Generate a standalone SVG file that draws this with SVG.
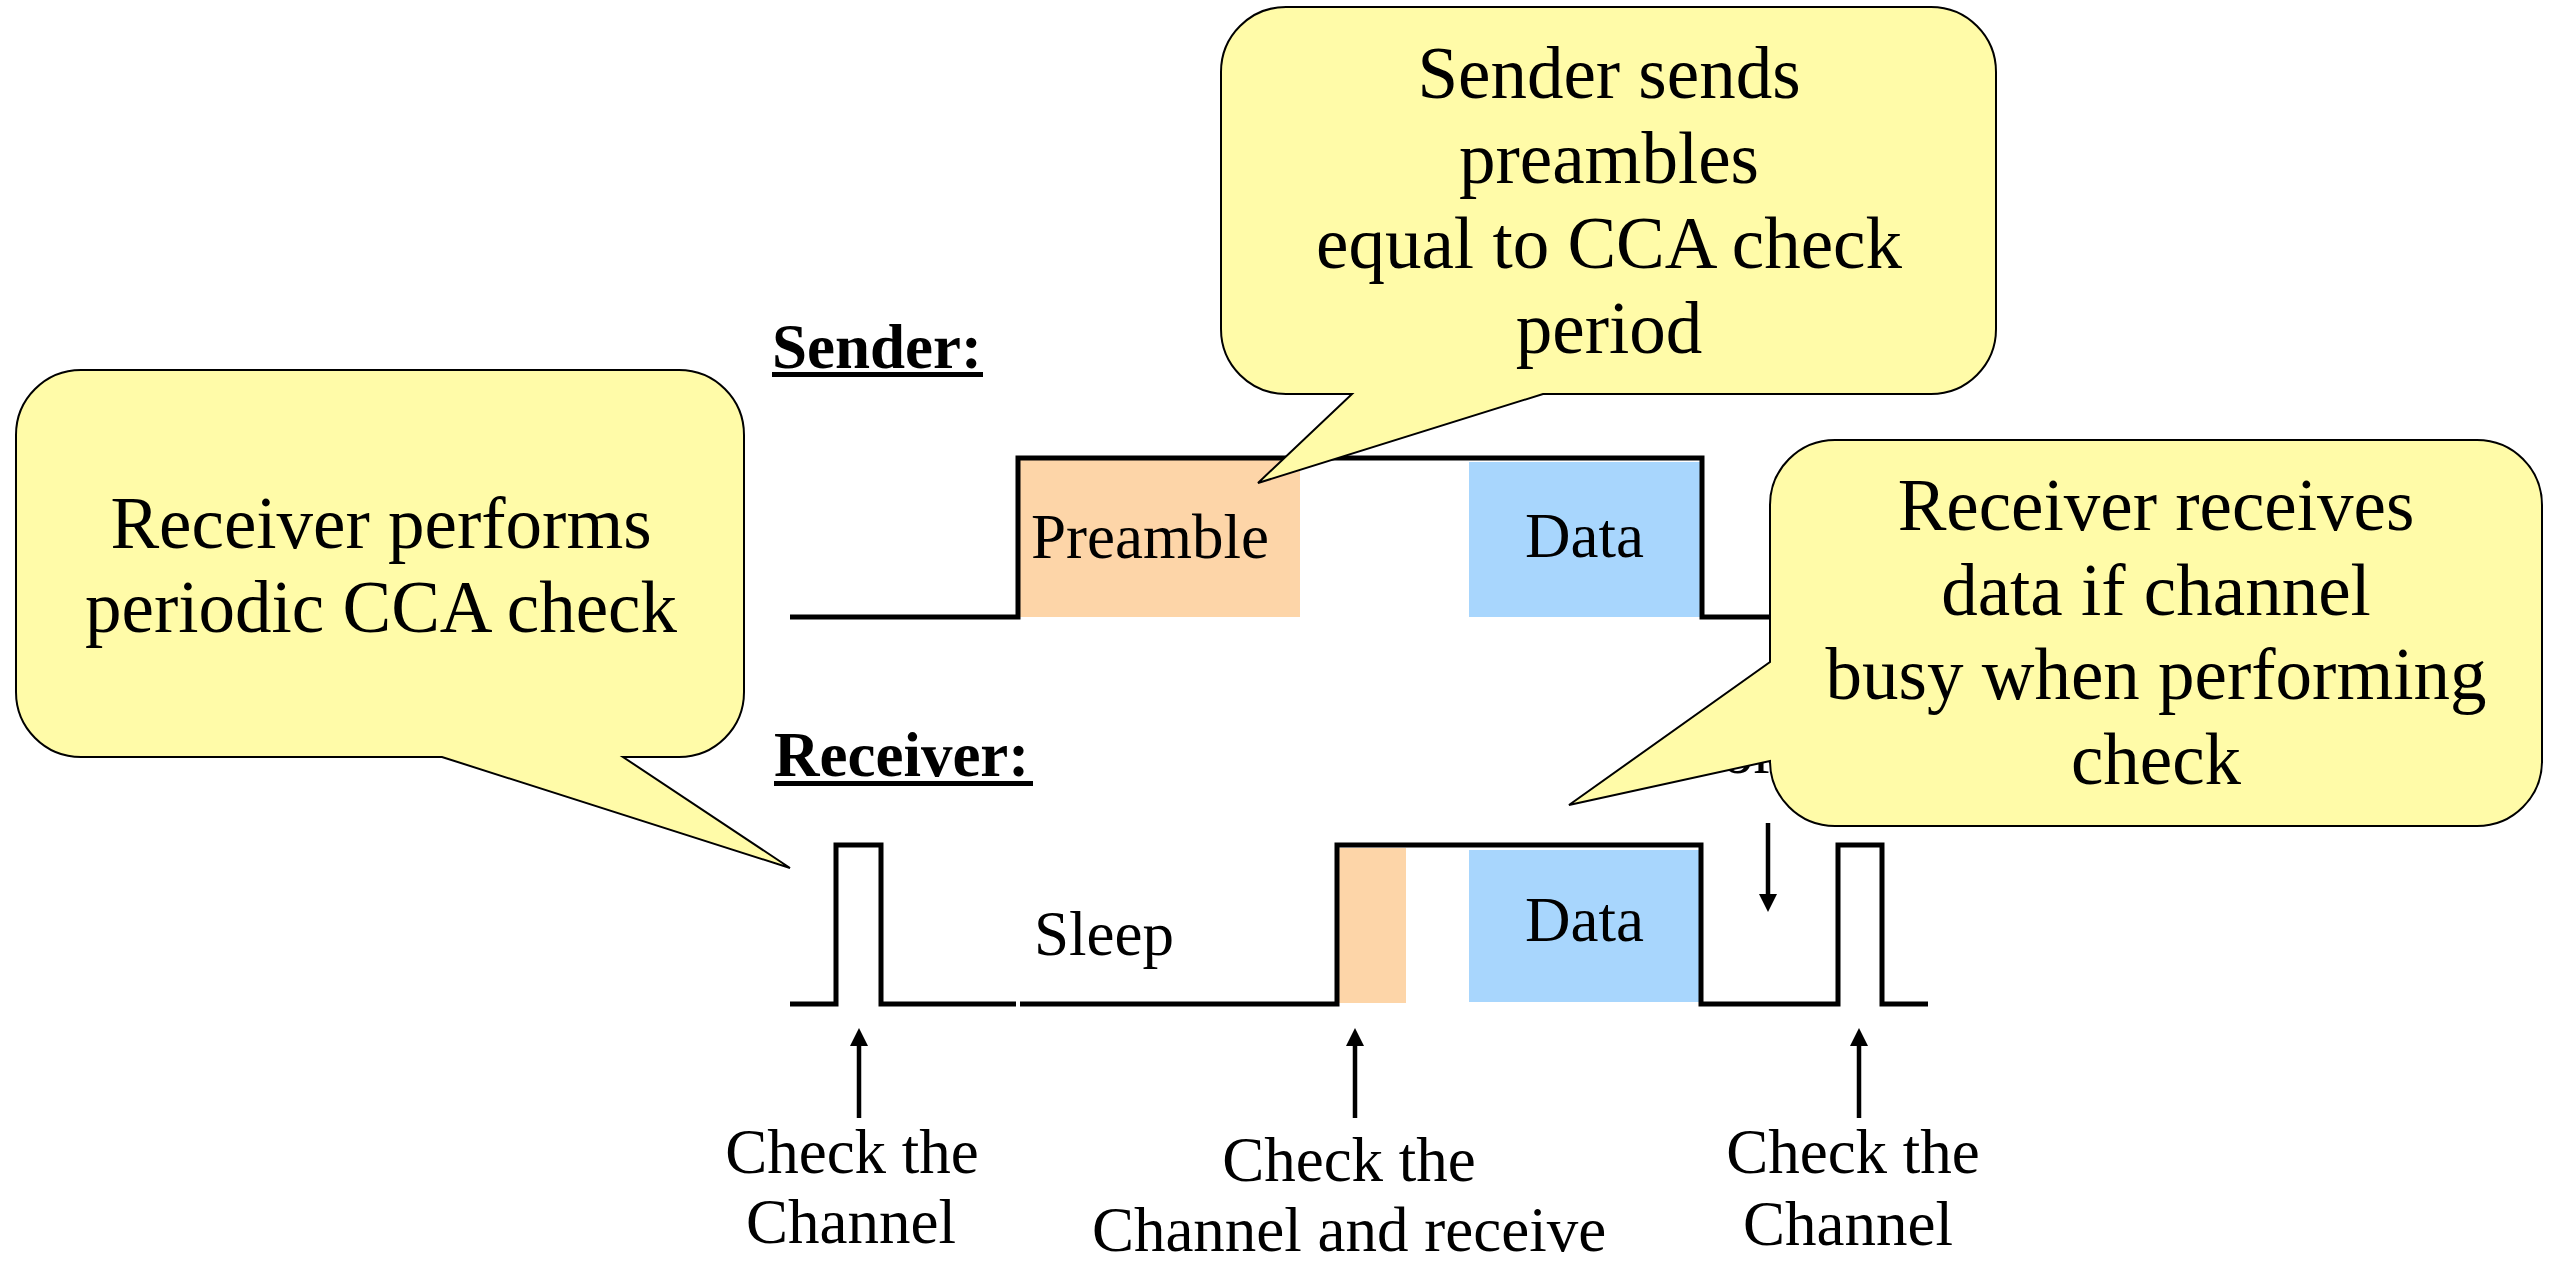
<svg xmlns="http://www.w3.org/2000/svg" width="2554" height="1261" viewBox="0 0 2554 1261">
  <style>
    .txt { font-family: "Liberation Serif", "Times New Roman", serif; fill: #000; }
    .lbl { font-size: 63px; }
    .head { font-size: 63px; font-weight: bold; }
    .call { font-size: 73px; text-anchor: middle; }
    .mid { text-anchor: middle; }
    .sig { fill: none; stroke: #000; stroke-width: 5; stroke-linejoin: miter; stroke-linecap: butt; }
    .bubble { fill: #FFFBA8; stroke: #000; stroke-width: 2; stroke-linejoin: miter; }
    .pre { fill: #FDD5A8; }
    .dat { fill: #A8D6FD; }
    .arrow { stroke: #000; stroke-width: 4.5; fill: none; marker-end: url(#tip); }
  </style>
  <defs>
    <marker id="tip" markerUnits="userSpaceOnUse" markerWidth="18" markerHeight="18" viewBox="0 0 18 18" refX="0" refY="9" orient="auto">
      <path d="M0,0 L18,9 L0,18 Z" fill="#000"/>
    </marker>
  </defs>
  <rect width="2554" height="1261" fill="#fff"/>

  <!-- Sender timeline -->
  <g id="sender">
    <text class="txt head" x="772" y="368">Sender:</text>
    <rect x="772" y="372" width="211" height="5" fill="#000"/>
    <rect class="pre" x="1018" y="460" width="282" height="157"/>
    <rect class="dat" x="1469" y="462" width="234" height="155"/>
    <text class="txt lbl" x="1031" y="558">Preamble</text>
    <text class="txt lbl" x="1525" y="557">Data</text>
    <polyline class="sig" points="790,617 1018,617 1018,458 1702,458 1702,617 1772,617"/>
  </g>

  <!-- Receiver timeline -->
  <g id="receiver">
    <text class="txt head" x="774" y="776">Receiver:</text>
    <rect x="774" y="781" width="259" height="5" fill="#000"/>
    <rect class="pre" x="1339" y="848" width="67" height="155"/>
    <rect class="dat" x="1469" y="850" width="234" height="152"/>
    <text class="txt lbl" x="1034" y="955">Sleep</text>
    <text class="txt lbl" x="1525" y="941">Data</text>
    <polyline class="sig" points="790,1004 836,1004 836,845 881,845 881,1004 1016,1004"/>
    <polyline class="sig" points="1020,1004 1337,1004 1337,845 1701,845 1701,1004 1838,1004 1838,845 1882,845 1882,1004 1928,1004"/>
    <text class="txt lbl" x="1722" y="773">or</text>
  </g>

  <!-- Channel check labels -->
  <g id="check1">
    <text class="txt lbl mid" x="852" y="1173">Check the</text>
    <text class="txt lbl mid" x="851" y="1243">Channel</text>
  </g>
  <g id="check2">
    <text class="txt lbl mid" x="1349" y="1181">Check the</text>
    <text class="txt lbl mid" x="1349" y="1251">Channel and receive</text>
  </g>
  <g id="check3">
    <text class="txt lbl mid" x="1853" y="1173">Check the</text>
    <text class="txt lbl mid" x="1848" y="1245">Channel</text>
  </g>

  <!-- Arrows -->
  <g id="connectors">
    <line class="arrow" x1="859" y1="1118" x2="859" y2="1046"/>
    <line class="arrow" x1="1355" y1="1118" x2="1355" y2="1046"/>
    <line class="arrow" x1="1859" y1="1118" x2="1859" y2="1046"/>
    <line class="arrow" x1="1768" y1="823" x2="1768" y2="894"/>
  </g>

  <!-- Callouts -->
  <g id="callout-sender">
    <path class="bubble" d="M1286,7 H1931 A65,65 0 0 1 1996,72 V329 A65,65 0 0 1 1931,394 H1543 L1258,483 L1352,394 H1286 A65,65 0 0 1 1221,329 V72 A65,65 0 0 1 1286,7 Z"/>
    <text class="txt call" x="1609" y="98">Sender sends</text>
    <text class="txt call" x="1609" y="183">preambles</text>
    <text class="txt call" x="1609" y="268">equal to CCA check</text>
    <text class="txt call" x="1609" y="353">period</text>
  </g>
  <g id="callout-cca">
    <path class="bubble" d="M81,370 H679 A65,65 0 0 1 744,435 V692 A65,65 0 0 1 679,757 H623 L790,868 L442,757 H81 A65,65 0 0 1 16,692 V435 A65,65 0 0 1 81,370 Z"/>
    <text class="txt call" x="381" y="548">Receiver performs</text>
    <text class="txt call" x="381" y="632">periodic CCA check</text>
  </g>
  <g id="callout-receive">
    <path class="bubble" d="M1835,440 H2477 A65,65 0 0 1 2542,505 V761 A65,65 0 0 1 2477,826 H1835 A65,65 0 0 1 1770,761 L1569,805 L1770,662 V505 A65,65 0 0 1 1835,440 Z"/>
    <text class="txt call" x="2156" y="530">Receiver receives</text>
    <text class="txt call" x="2156" y="615">data if channel</text>
    <text class="txt call" x="2156" y="699">busy when performing</text>
    <text class="txt call" x="2156" y="784">check</text>
  </g>
</svg>
